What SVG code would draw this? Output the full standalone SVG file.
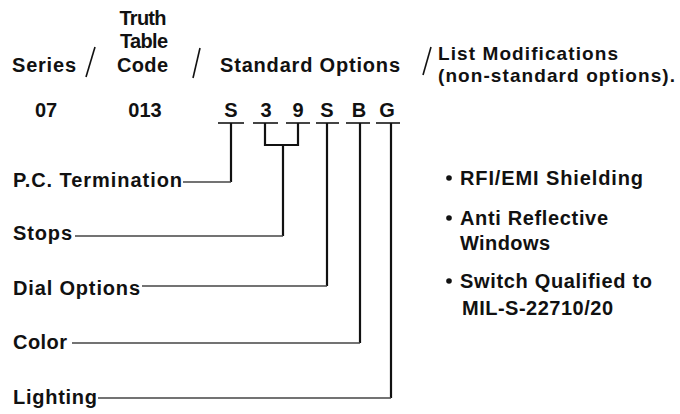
<svg xmlns="http://www.w3.org/2000/svg" width="680" height="414" viewBox="0 0 680 414">
<style>
text{font-family:"Liberation Sans",Arial,Helvetica,sans-serif;font-weight:bold;font-size:20px;fill:#111}
.c{text-anchor:middle}
.s19{font-size:19px}
.bar{stroke:#444;stroke-width:2;fill:none}
.v{stroke:#111;stroke-width:2.2;fill:none}
.h{stroke:#444;stroke-width:1.6;fill:none}
.sl{stroke:#111;stroke-width:1.6}
</style>
<rect width="680" height="414" fill="#fff"/>
<g id="header">
<text x="143" y="25" class="c" textLength="47">Truth</text>
<text x="144" y="48" class="c" textLength="48">Table</text>
<text x="12" y="72" textLength="64">Series</text>
<line class="sl" x1="95" y1="47" x2="86" y2="77"/>
<text x="117" y="72" textLength="51">Code</text>
<line class="sl" x1="200" y1="48" x2="193" y2="78"/>
<text x="220" y="72" textLength="180">Standard Options</text>
<line class="sl" x1="431" y1="47" x2="423" y2="75"/>
<text x="438" y="60" class="s19" textLength="180">List Modifications</text>
<text x="438" y="82" class="s19" textLength="237">(non-standard options).</text>
</g>
<g id="code-row">
<text x="46" y="117" class="c">07</text>
<text x="145" y="117" class="c">013</text>
<text x="231" y="117" class="c">S</text>
<text x="266" y="117" class="c">3</text>
<text x="298" y="117" class="c">9</text>
<text x="327" y="117" class="c">S</text>
<text x="359" y="117" class="c">B</text>
<text x="387" y="117" class="c">G</text>
<line class="bar" x1="218" y1="123" x2="244" y2="123"/>
<line class="bar" x1="253" y1="123" x2="278" y2="123"/>
<line class="bar" x1="286" y1="123" x2="310" y2="123"/>
<line class="bar" x1="316" y1="123" x2="339" y2="123"/>
<line class="bar" x1="346" y1="123" x2="370" y2="123"/>
<line class="bar" x1="376" y1="123" x2="400" y2="123"/>
</g>
<g id="connectors">
<path class="v" d="M231 123V182"/>
<path class="h" d="M183 182H231"/>
<path class="v" d="M265 123V145H298V123M283 145V236"/>
<path class="h" d="M75 236H283"/>
<path class="v" d="M327 123V286"/>
<path class="h" d="M142 286H327"/>
<path class="v" d="M360 123V343"/>
<path class="h" d="M72 343H360"/>
<path class="v" d="M391 123V398"/>
<path class="h" d="M98 398H391"/>
</g>
<g id="pc-termination"><text x="13" y="187" textLength="169">P.C. Termination</text></g>
<g id="stops"><text x="13" y="240" textLength="59">Stops</text></g>
<g id="dial-options"><text x="13" y="295" textLength="127">Dial Options</text></g>
<g id="color"><text x="13" y="349" textLength="54">Color</text></g>
<g id="lighting"><text x="13" y="404" textLength="84">Lighting</text></g>
<g id="modifications">
<circle cx="449" cy="178" r="2.8" fill="#111"/>
<text x="460" y="185" textLength="183">RFI/EMI Shielding</text>
<circle cx="449" cy="218" r="2.8" fill="#111"/>
<text x="460" y="225" textLength="148">Anti Reflective</text>
<text x="460" y="250" textLength="90">Windows</text>
<circle cx="449" cy="281" r="2.8" fill="#111"/>
<text x="460" y="288" textLength="192">Switch Qualified to</text>
<text x="462" y="315" textLength="151">MIL-S-22710/20</text>
</g>
</svg>
